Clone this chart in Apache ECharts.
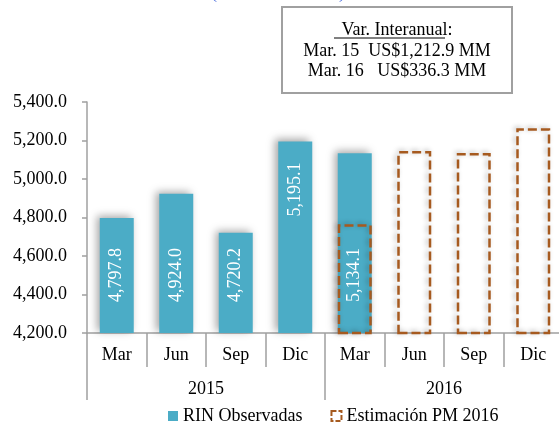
<!DOCTYPE html>
<html>
<head>
<meta charset="utf-8">
<script src="https://cdn.jsdelivr.net/npm/echarts@6/dist/echarts.min.js"></script>
<style>
  html, body { margin: 0; padding: 0; background: #fff; }
  #chart { width: 559px; height: 422px; }
</style>
</head>
<body>
<div id="chart"></div>
<script>
/* datos de la gráfica */
var meses = ['Mar', 'Jun', 'Sep', 'Dic', 'Mar', 'Jun', 'Sep', 'Dic'];
var anios = ['2015', '2016'];
var rinObservadas = [4797.8, 4924.0, 4720.2, 5195.1, 5134.1, '-', '-', '-'];
var estimacionPM = ['-', '-', '-', '-', 4765, 5145, 5135, 5263];
var yTicks = { min: 4200, max: 5400, step: 200 };
var cuadroTitulo = 'Var. Interanual:';
var cuadroLineas = ['Mar. 15  US$1,212.9 MM', 'Mar. 16   US$336.3 MM'];

var fuente = '"Liberation Serif", "DejaVu Serif", serif';
var azul = '#4BACC6';
var cafe = '#A65A1F';
var gris = '#A0A0A0';

fmt = (v) => {
    var n = Number(v).toFixed(1).split('.');
    return n[0].replace(/\B(?=(\d{3})+(?!\d))/g, ',') + '.' + n[1];
};

/* la etiqueta de Dic 2015 va arriba en la barra, como en el original */
var datosRin = rinObservadas.map((v, i) => i === 3 ? {
    value: v,
    label: { position: 'insideTop', distance: 21, align: 'right' }
} : v);

var dom = document.getElementById('chart');
var myChart = echarts.init(dom);
var option = {
    animation: false,
    grid: {
        left: 87,
        top: 102,
        width: 476,
        height: 231,
        outerBoundsMode: 'none'
    },
    legend: {
        left: 163,
        top: 402,
        itemWidth: 10,
        itemHeight: 10,
        itemGap: 28,
        textStyle: { fontFamily: fuente, fontSize: 18, color: '#000' },
        data: [
            { name: 'RIN Observadas', icon: 'rect' },
            {
                name: 'Estimación PM 2016',
                icon: 'rect',
                itemStyle: { color: '#fff', borderColor: cafe, borderWidth: 2, borderType: [5, 2] }
            }
        ]
    },
    xAxis: [{
        type: 'category',
        data: meses,
        position: 'bottom',
        axisLine: { show: true, onZero: false, lineStyle: { color: gris, width: 1.5 } },
        axisTick: { show: true, length: 34, interval: 0, lineStyle: { color: gris, width: 1.5 } },
        axisLabel: { fontFamily: fuente, fontSize: 18, color: '#000', margin: 13, interval: 0 }
    }, {
        type: 'category',
        data: anios,
        position: 'bottom',
        axisLine: { show: false, onZero: false },
        axisTick: { show: true, length: 67, interval: 0, lineStyle: { color: gris, width: 1.5 } },
        axisLabel: { fontFamily: fuente, fontSize: 18, color: '#000', margin: 47 }
    }],
    yAxis: {
        type: 'value',
        min: yTicks.min,
        max: yTicks.max,
        interval: yTicks.step,
        splitLine: { show: false },
        axisLine: { show: true, lineStyle: { color: gris, width: 1.5 } },
        axisTick: { show: true, length: 5, lineStyle: { color: gris, width: 1.5 } },
        axisLabel: {
            fontFamily: fuente,
            fontSize: 18,
            color: '#000',
            margin: 20,
            formatter: fmt
        }
    },
    series: [{
        name: 'RIN Observadas',
        type: 'bar',
        xAxisIndex: 0,
        barWidth: 34,
        barGap: '-100%',
        data: datosRin,
        itemStyle: {
            color: azul,
            shadowColor: 'rgba(0,0,0,0.35)',
            shadowBlur: 8,
            shadowOffsetX: -3,
            shadowOffsetY: -2
        },
        label: {
            show: true,
            position: 'insideBottom',
            distance: 31,
            rotate: 90,
            align: 'left',
            verticalAlign: 'middle',
            color: '#fff',
            fontFamily: fuente,
            fontSize: 18,
            formatter: (p) => fmt(p.value)
        }
    }, {
        name: 'Estimación PM 2016',
        type: 'bar',
        xAxisIndex: 0,
        barWidth: 34,
        data: estimacionPM,
        itemStyle: {
            color: 'rgba(0,0,0,0)',
            borderColor: cafe,
            borderWidth: 2.5,
            borderType: [9, 4],
            shadowColor: 'rgba(0,0,0,0.3)',
            shadowBlur: 5,
            shadowOffsetX: -2,
            shadowOffsetY: -1
        }
    }],
    graphic: [{
        type: 'text',
        left: 211,
        top: -16,
        style: { text: '(Millones de US$)', fontFamily: fuente, fontSize: 18, fill: '#3A5FD9' }
    }, {
        type: 'rect',
        shape: { x: 282, y: 7, width: 230, height: 86 },
        style: { fill: '#fff', stroke: gris, lineWidth: 2 }
    }, {
        type: 'text',
        x: 397, y: 30,
        style: {
            text: cuadroTitulo, fontFamily: fuente, fontSize: 18, fill: '#000',
            align: 'center', verticalAlign: 'middle'
        }
    }, {
        type: 'line',
        shape: { x1: 334, y1: 38, x2: 445, y2: 38 },
        style: { stroke: '#000', lineWidth: 1 }
    }, {
        type: 'text',
        x: 397, y: 51,
        style: {
            text: cuadroLineas[0], fontFamily: fuente, fontSize: 18, fill: '#000',
            align: 'center', verticalAlign: 'middle'
        }
    }, {
        type: 'text',
        x: 397, y: 71,
        style: {
            text: cuadroLineas[1], fontFamily: fuente, fontSize: 18, fill: '#000',
            align: 'center', verticalAlign: 'middle'
        }
    }]
};
if (option && typeof option === 'object') {
    myChart.setOption(option, true);
}
</script>
</body>
</html>
